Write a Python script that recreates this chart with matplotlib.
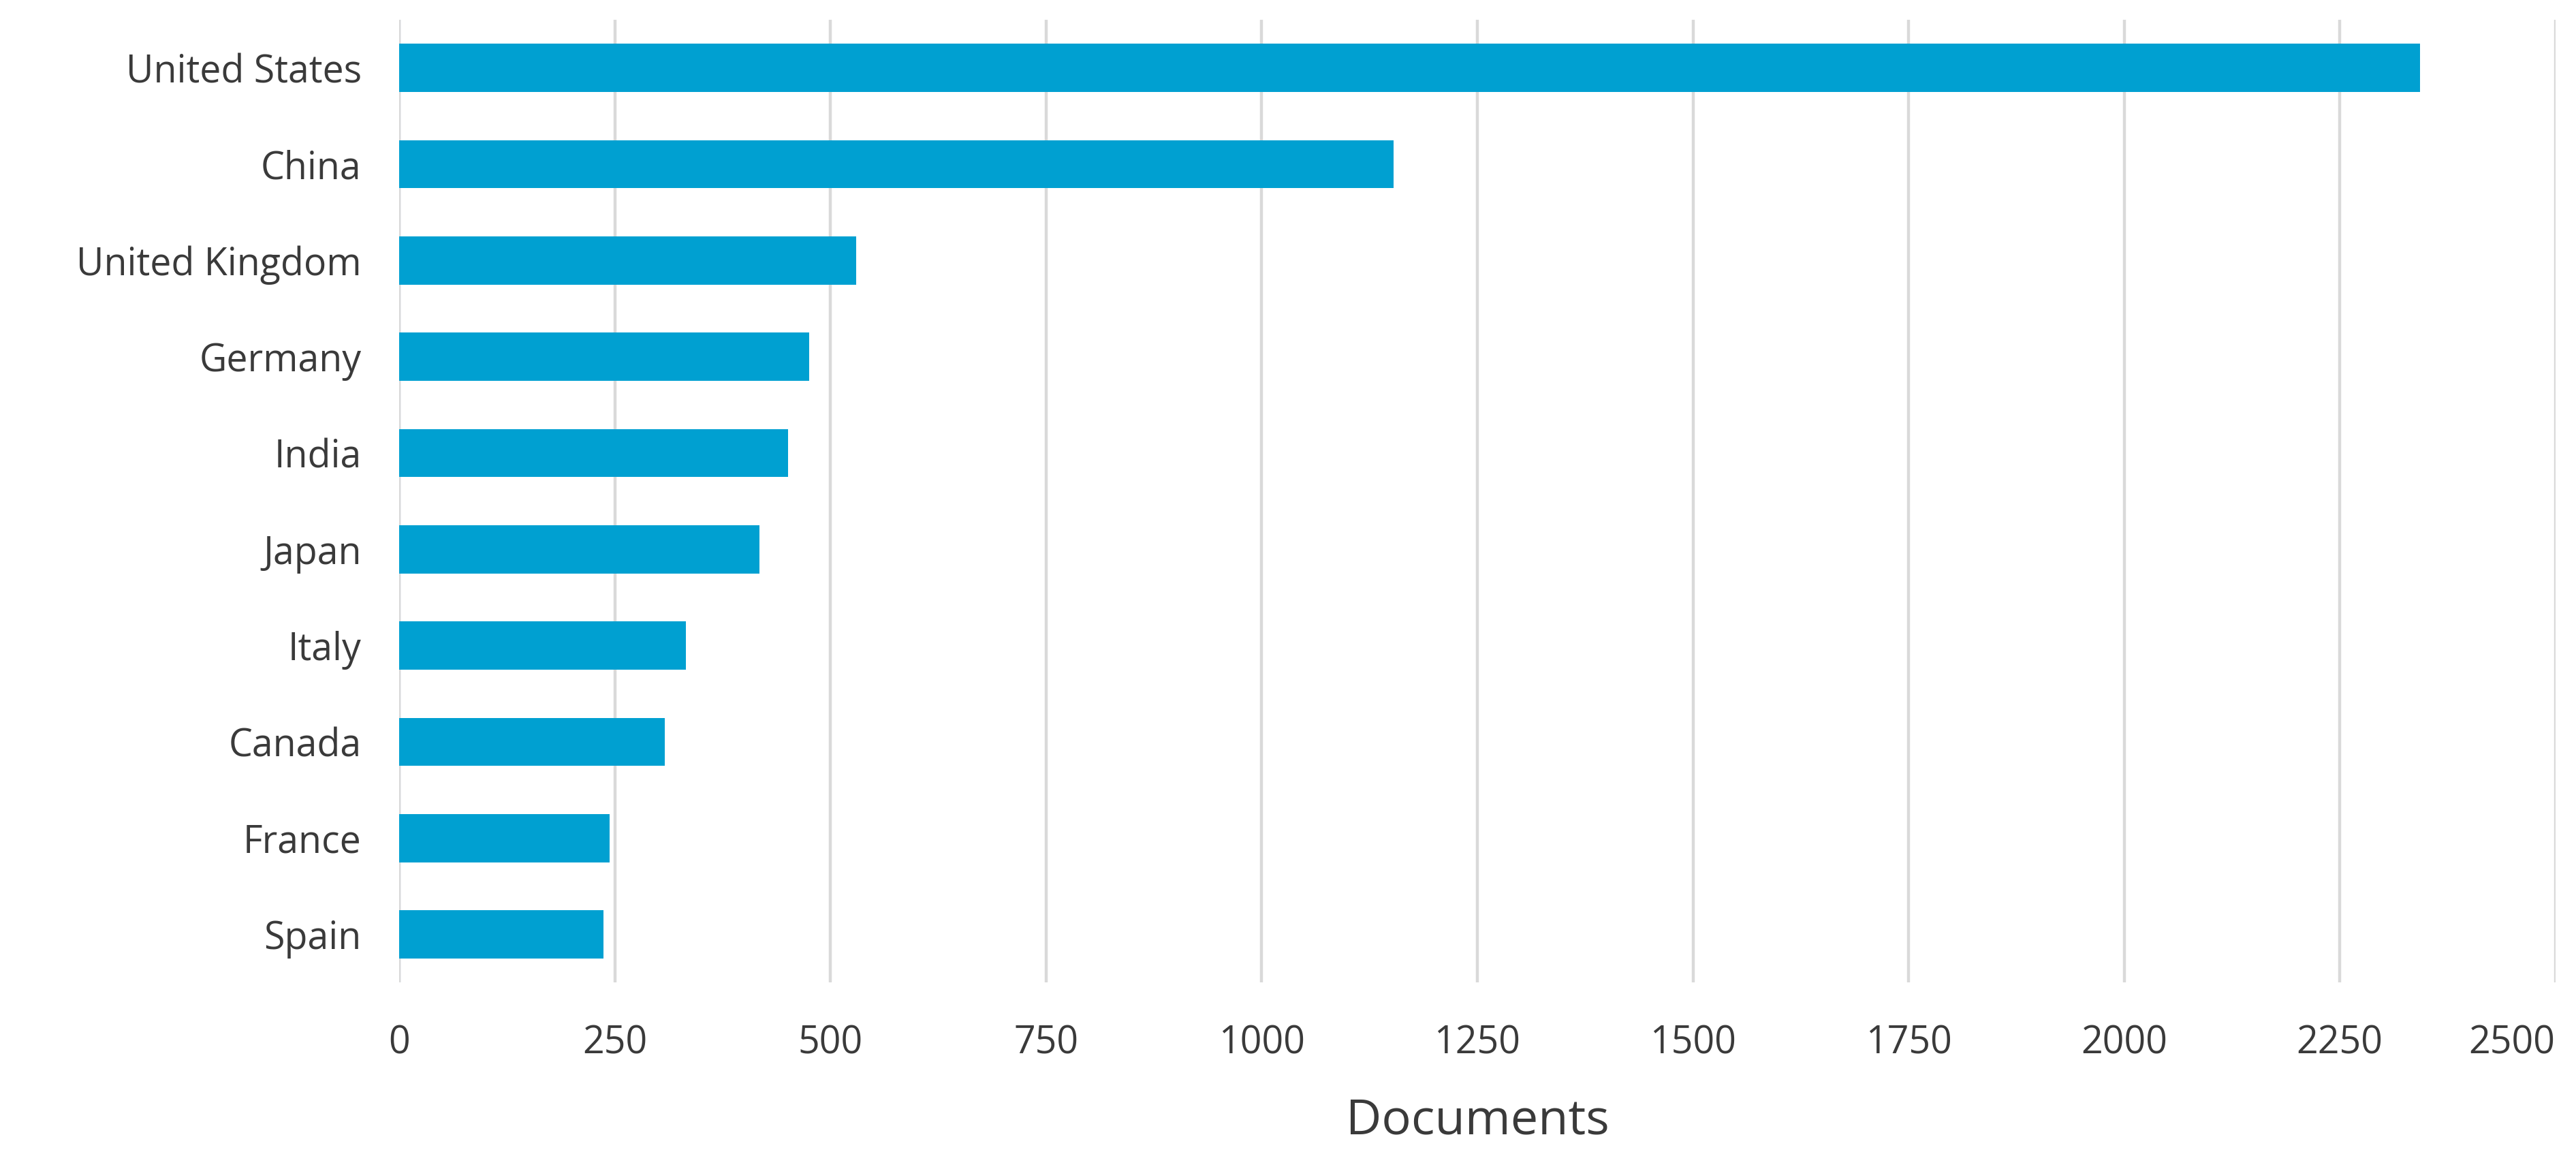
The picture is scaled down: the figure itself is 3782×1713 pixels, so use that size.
import matplotlib
matplotlib.use("Agg")
import matplotlib.pyplot as plt

countries = ["United States", "China", "United Kingdom", "Germany", "India",
             "Japan", "Italy", "Canada", "France", "Spain"]
documents = [2343, 1153, 530, 475, 451, 418, 332, 308, 244, 237]
xticks = [0, 250, 500, 750, 1000, 1250, 1500, 1750, 2000, 2250, 2500]

BAR = "#00A0D1"
TEXT = "#3A3A3A"
GRID = "#D9D9D9"

plt.rcParams["font.family"] = ["Open Sans", "DejaVu Sans"]

fig = plt.figure(figsize=(18.91, 8.565), dpi=200)
ax = fig.add_axes([0.155, 0.158, 0.837, 0.825])

y = list(range(len(countries)))
ax.barh(y, documents, height=0.5, color=BAR, zorder=3)
ax.set_ylim(len(countries) - 0.5, -0.5)
ax.set_yticks(y)
ax.set_yticklabels(countries, fontsize=20, color=TEXT)
ax.set_xlim(0, 2500)
ax.set_xticks(xticks)
labels = ax.set_xticklabels([str(t) for t in xticks], fontsize=20, color=TEXT)
labels[-1].set_horizontalalignment("right")
ax.tick_params(axis="both", length=0)
ax.tick_params(axis="x", pad=22)
ax.tick_params(axis="y", pad=20)
ax.grid(axis="x", color=GRID, linewidth=1.6, zorder=0)
for s in ax.spines.values():
    s.set_visible(False)
ax.axvline(0, color="#C8D6E8", linewidth=1.6, zorder=1)
ax.set_xlabel("Documents", fontsize=26, color=TEXT, labelpad=18)

fig.savefig("out.png", dpi=200, facecolor="white")
